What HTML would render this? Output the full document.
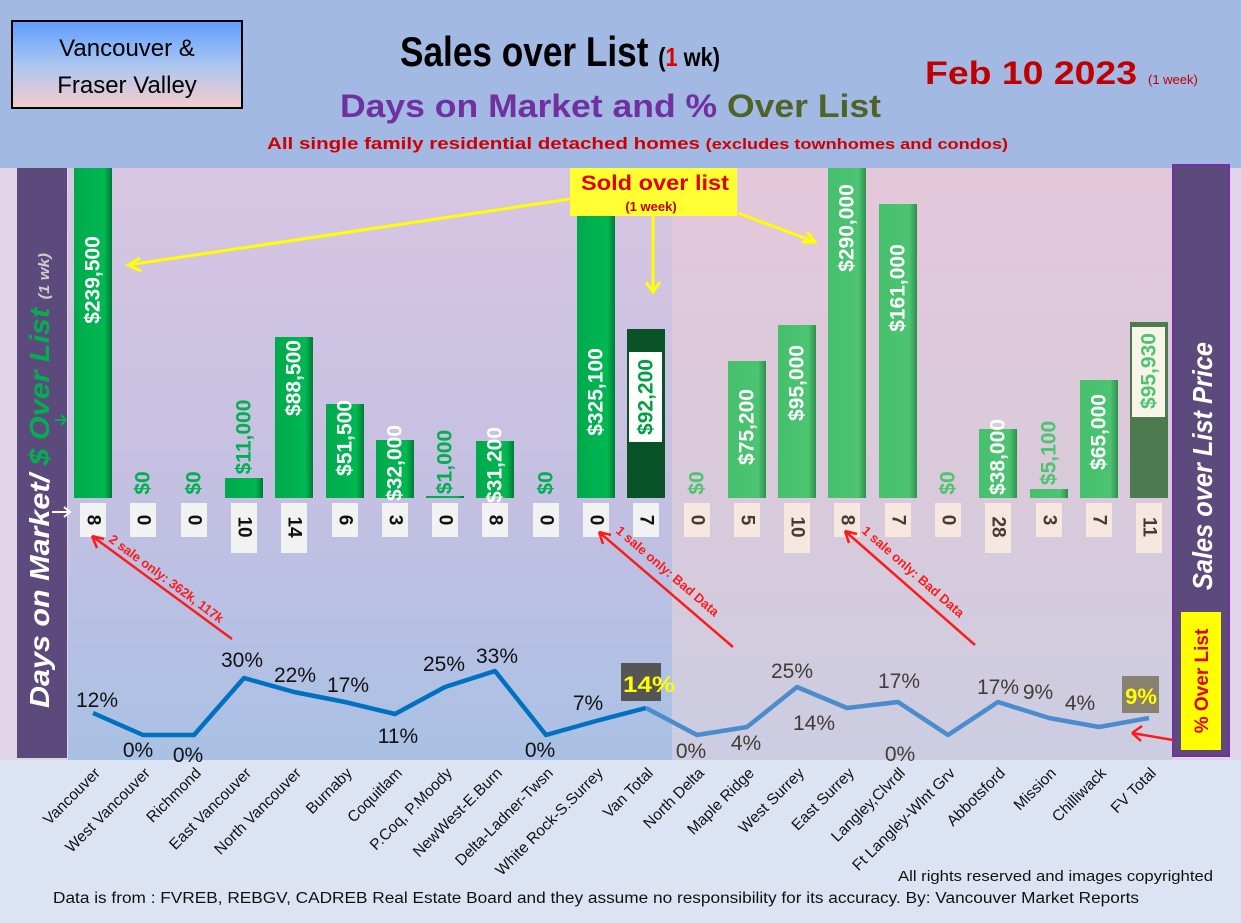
<!DOCTYPE html>
<html><head><meta charset="utf-8"><style>
body{margin:0;width:1241px;height:918px;overflow:hidden;background:#dce4f4;font-family:"Liberation Sans",sans-serif}
</style></head><body>
<svg width="1241" height="918" xmlns="http://www.w3.org/2000/svg" font-family="Liberation Sans, sans-serif">
<defs>
<linearGradient id="bx" x1="0" y1="0" x2="0" y2="1"><stop offset="0" stop-color="#5f9cff"/><stop offset="0.5" stop-color="#a9c6f0"/><stop offset="1" stop-color="#f6cccc"/></linearGradient>
<linearGradient id="lt" x1="0" y1="0" x2="0" y2="1"><stop offset="0" stop-color="#d8c6e2"/><stop offset="0.55" stop-color="#c4c0e2"/><stop offset="1" stop-color="#a9c1e4"/></linearGradient>
<linearGradient id="rt" x1="0" y1="0" x2="0" y2="1"><stop offset="0" stop-color="#e4c8da"/><stop offset="0.55" stop-color="#d8cada"/><stop offset="1" stop-color="#cccde2"/></linearGradient>
<linearGradient id="g1" x1="0" y1="0" x2="1" y2="0"><stop offset="0" stop-color="#00a94c"/><stop offset="0.8" stop-color="#00b852"/><stop offset="1" stop-color="#037a36"/></linearGradient>
<linearGradient id="g2" x1="0" y1="0" x2="1" y2="0"><stop offset="0" stop-color="#46c06c"/><stop offset="0.8" stop-color="#4cc472"/><stop offset="1" stop-color="#2f8f4e"/></linearGradient>
</defs>
<rect x="0" y="0" width="1241" height="168" fill="#a2b9e4"/>
<rect x="0" y="168" width="1241" height="592" fill="#e2d4e8"/>
<rect x="68" y="168" width="604" height="592" fill="url(#lt)"/>
<rect x="672" y="168" width="501" height="592" fill="url(#rt)"/>
<rect x="0" y="760" width="1241" height="158" fill="#dce4f4"/>
<!-- header -->
<rect x="12" y="21" width="230" height="87" fill="url(#bx)" stroke="#000" stroke-width="2"/>
<text x="127" y="56" font-size="24" text-anchor="middle">Vancouver &amp;</text>
<text x="127" y="93" font-size="24" text-anchor="middle">Fraser Valley</text>
<text x="400" y="66" font-size="42" font-weight="bold" textLength="320" lengthAdjust="spacingAndGlyphs">Sales over List <tspan font-size="26">(<tspan fill="#e00000">1</tspan> wk)</tspan></text>
<text x="925" y="84" font-size="32" font-weight="bold" fill="#c00000" textLength="212" lengthAdjust="spacingAndGlyphs">Feb 10  2023</text>
<text x="1148" y="84" font-size="13" fill="#c00000">(1 week)</text>
<text x="340" y="117" font-size="32" font-weight="bold" fill="#7030a0" textLength="541" lengthAdjust="spacingAndGlyphs">Days on Market and % <tspan fill="#4f6228">Over List</tspan></text>
<text x="267" y="149" font-size="17" font-weight="bold" fill="#d00000" textLength="741" lengthAdjust="spacingAndGlyphs">All single family residential detached homes <tspan font-size="15">(excludes townhomes and condos)</tspan></text>
<!-- side bars -->
<rect x="17" y="168" width="50" height="590" fill="#5c4a7c"/>
<text transform="translate(49,708) rotate(-90)" font-size="28" font-weight="bold" font-style="italic" fill="#fff" textLength="455" lengthAdjust="spacingAndGlyphs">Days on Market/ <tspan fill="#00b050">$ Over List</tspan> <tspan font-size="15" fill="#ccc">(1 wk)</tspan></text>
<rect x="1173" y="165" width="56" height="591" fill="#5c4a7c" stroke="#7030a0" stroke-width="2"/>
<text transform="translate(1212,590) rotate(-90)" font-size="28" font-weight="bold" font-style="italic" fill="#fff" textLength="248" lengthAdjust="spacingAndGlyphs">Sales over List Price</text>
<rect x="1181" y="612" width="40" height="138" fill="#ffff00"/>
<text transform="translate(1208,681) rotate(-90)" font-size="19" font-weight="bold" fill="#e00000" text-anchor="middle">% Over List</text>
<!-- bars -->
<g>
<rect x="74" y="168" width="38" height="330" fill="url(#g1)"/>
<rect x="225" y="478" width="38" height="20" fill="url(#g1)"/>
<rect x="275" y="337" width="38" height="161" fill="url(#g1)"/>
<rect x="326" y="404" width="38" height="94" fill="url(#g1)"/>
<rect x="376" y="440" width="38" height="58" fill="url(#g1)"/>
<rect x="426" y="496" width="38" height="2" fill="url(#g1)"/>
<rect x="476" y="441" width="38" height="57" fill="url(#g1)"/>
<rect x="577" y="168" width="38" height="330" fill="url(#g1)"/>
<rect x="627" y="329" width="38" height="169" fill="#0a5228"/>
<rect x="728" y="361" width="38" height="137" fill="url(#g2)"/>
<rect x="778" y="325" width="38" height="173" fill="url(#g2)"/>
<rect x="828" y="168" width="38" height="330" fill="url(#g2)"/>
<rect x="879" y="204" width="38" height="294" fill="url(#g2)"/>
<rect x="979" y="429" width="38" height="69" fill="url(#g2)"/>
<rect x="1030" y="489" width="38" height="9" fill="url(#g2)"/>
<rect x="1080" y="380" width="38" height="118" fill="url(#g2)"/>
<rect x="1130" y="322" width="38" height="176" fill="#4e7a52"/>
<rect x="629" y="352" width="33" height="90" fill="#fff"/>
<rect x="1132" y="327" width="33" height="90" fill="#f8f4e8"/>
</g>
<g font-size="21" font-weight="bold" fill="#fff" text-anchor="middle" dominant-baseline="central">
<text transform="translate(93,280) rotate(-90)">$239,500</text>
<text transform="translate(143,483) rotate(-90)" fill="#00b050">$0</text>
<text transform="translate(194,483) rotate(-90)" fill="#00b050">$0</text>
<text transform="translate(244,437) rotate(-90)" fill="#00b050">$11,000</text>
<text transform="translate(294,378) rotate(-90)">$88,500</text>
<text transform="translate(345,438) rotate(-90)">$51,500</text>
<text transform="translate(395,463) rotate(-90)">$32,000</text>
<text transform="translate(445,462) rotate(-90)" fill="#00b050">$1,000</text>
<text transform="translate(495,465) rotate(-90)">$31,200</text>
<text transform="translate(546,483) rotate(-90)" fill="#00b050">$0</text>
<text transform="translate(596,392) rotate(-90)">$325,100</text>
<text transform="translate(646,397) rotate(-90)" fill="#00a040">$92,200</text>
<text transform="translate(697,483) rotate(-90)" fill="#4cc472">$0</text>
<text transform="translate(747,427) rotate(-90)">$75,200</text>
<text transform="translate(797,383) rotate(-90)">$95,000</text>
<text transform="translate(847,228) rotate(-90)">$290,000</text>
<text transform="translate(898,288) rotate(-90)">$161,000</text>
<text transform="translate(948,483) rotate(-90)" fill="#4cc472">$0</text>
<text transform="translate(998,457) rotate(-90)">$38,000</text>
<text transform="translate(1049,453) rotate(-90)" fill="#4cc472">$5,100</text>
<text transform="translate(1099,432) rotate(-90)">$65,000</text>
<text transform="translate(1149,371) rotate(-90)" fill="#4cc472">$95,930</text>
</g>
<!-- day boxes -->
<g fill="#f2f2f2">
<rect x="80" y="503" width="26" height="34"/><rect x="130" y="503" width="26" height="34"/><rect x="181" y="503" width="26" height="34"/>
<rect x="231" y="503" width="26" height="50"/><rect x="281" y="503" width="26" height="50"/><rect x="332" y="503" width="26" height="34"/>
<rect x="382" y="503" width="26" height="34"/><rect x="432" y="503" width="26" height="34"/><rect x="482" y="503" width="26" height="34"/>
<rect x="533" y="503" width="26" height="34"/><rect x="583" y="503" width="26" height="34"/><rect x="633" y="503" width="26" height="34"/>
</g>
<g fill="#f6e8e0">
<rect x="684" y="503" width="26" height="34"/><rect x="734" y="503" width="26" height="34"/><rect x="784" y="503" width="26" height="50"/>
<rect x="834" y="503" width="26" height="34"/><rect x="885" y="503" width="26" height="34"/><rect x="935" y="503" width="26" height="34"/>
<rect x="985" y="503" width="26" height="50"/><rect x="1036" y="503" width="26" height="34"/><rect x="1086" y="503" width="26" height="34"/>
<rect x="1136" y="503" width="26" height="50"/>
</g>
<g font-size="19" font-weight="bold" fill="#111" text-anchor="middle" dominant-baseline="central">
<text transform="translate(93,520) rotate(90)">8</text><text transform="translate(143,520) rotate(90)">0</text><text transform="translate(194,520) rotate(90)">0</text>
<text transform="translate(244,527) rotate(90)">10</text><text transform="translate(294,527) rotate(90)">14</text><text transform="translate(345,520) rotate(90)">6</text>
<text transform="translate(395,520) rotate(90)">3</text><text transform="translate(445,520) rotate(90)">0</text><text transform="translate(495,520) rotate(90)">8</text>
<text transform="translate(546,520) rotate(90)">0</text><text transform="translate(596,520) rotate(90)">0</text><text transform="translate(646,520) rotate(90)">7</text>
</g>
<g font-size="19" font-weight="bold" fill="#443a36" text-anchor="middle" dominant-baseline="central">
<text transform="translate(697,520) rotate(90)">0</text><text transform="translate(747,520) rotate(90)">5</text><text transform="translate(797,527) rotate(90)">10</text>
<text transform="translate(847,520) rotate(90)">8</text><text transform="translate(898,520) rotate(90)">7</text><text transform="translate(948,520) rotate(90)">0</text>
<text transform="translate(998,527) rotate(90)">28</text><text transform="translate(1049,520) rotate(90)">3</text><text transform="translate(1099,520) rotate(90)">7</text>
<text transform="translate(1149,527) rotate(90)">11</text>
</g>
<!-- small arrows -->
<path d="M52,512 H70 M64,507 L70,512 L64,517" stroke="#fff" stroke-width="2" fill="none"/>
<path d="M55,420 H66 M61,415 L66,420 L61,425" stroke="#00b050" stroke-width="2" fill="none"/>
<!-- yellow annotation -->
<rect x="570" y="168" width="167" height="48" fill="#ffff33"/>
<text x="655" y="190" font-size="21" font-weight="bold" fill="#e00000" text-anchor="middle" textLength="148" lengthAdjust="spacingAndGlyphs">Sold over list</text>
<text x="651" y="211" font-size="13" font-weight="bold" fill="#c00000" text-anchor="middle">(1 week)</text>
<g stroke="#ffff00" stroke-width="3" fill="none">
<path d="M570,199 L128,265 M140,258 L128,265 L141,271"/>
<path d="M653,216 V292 M646,282 L653,292 L660,282"/>
<path d="M738,213 L815,242 M802,242 L815,242 L807,232"/>
</g>
<!-- red annotations -->
<g stroke="#ff1a1a" stroke-width="2.5" fill="none">
<path d="M232,639 L92,536 M92,536 L97,548 M92,536 L104,539"/>
<path d="M733,647 L599,532 M599,532 L603,544 M599,532 L611,535"/>
<path d="M975,645 L845,531 M845,531 L849,543 M845,531 L857,534"/>
<path d="M1173,740 L1132,733 M1132,733 L1142,726 M1132,733 L1141,741"/>
</g>
<g font-size="13" font-weight="bold" fill="#ff1a1a">
<text transform="translate(108,541) rotate(36.5)">2 sale only: 362k, 117k</text>
<text transform="translate(615,532) rotate(40.6)">1 sale only: Bad Data</text>
<text transform="translate(861,532) rotate(41.2)">1 sale only: Bad Data</text>
</g>
<!-- line -->
<polyline points="93,713 143,735 194,735 244,678 294,692 345,702 395,714 445,687 495,671 546,735 596,721 646,708" fill="none" stroke="#0070c0" stroke-width="4.5" stroke-linejoin="round"/>
<polyline points="646,708 697,735 747,727 797,687 847,708 898,702 948,735 998,702 1049,718 1099,727 1149,718" fill="none" stroke="#4a8ccc" stroke-width="4.5" stroke-linejoin="round"/>
<g font-size="21" fill="#111" text-anchor="middle">
<text x="97" y="707">12%</text><text x="138" y="757">0%</text><text x="188" y="762">0%</text>
<text x="242" y="667">30%</text><text x="295" y="682">22%</text><text x="348" y="692">17%</text>
<text x="398" y="743">11%</text><text x="444" y="671">25%</text><text x="497" y="663">33%</text>
<text x="540" y="757">0%</text><text x="588" y="710">7%</text>
</g>
<rect x="621" y="663" width="40" height="38" fill="#555"/>
<text x="623" y="692" font-size="22" font-weight="bold" fill="#ffff00" textLength="52" lengthAdjust="spacingAndGlyphs">14%</text>
<g font-size="21" fill="#443a36" text-anchor="middle">
<text x="691" y="758">0%</text><text x="746" y="750">4%</text><text x="792" y="678">25%</text>
<text x="814" y="730">14%</text><text x="899" y="688">17%</text><text x="900" y="761">0%</text>
<text x="998" y="694">17%</text><text x="1038" y="699">9%</text><text x="1080" y="710">4%</text>
</g>
<rect x="1122" y="676" width="37" height="37" fill="#8a8070"/>
<text x="1141" y="704" font-size="22" font-weight="bold" fill="#ffff00" text-anchor="middle">9%</text>
<!-- category labels -->
<g font-size="15.5" fill="#111" text-anchor="end">
<text transform="translate(101,774) rotate(-45)">Vancouver</text>
<text transform="translate(151,774) rotate(-45)">West Vancouver</text>
<text transform="translate(202,774) rotate(-45)">Richmond</text>
<text transform="translate(252,774) rotate(-45)">East Vancouver</text>
<text transform="translate(302,774) rotate(-45)">North Vancouver</text>
<text transform="translate(353,774) rotate(-45)">Burnaby</text>
<text transform="translate(403,774) rotate(-45)">Coquitlam</text>
<text transform="translate(453,774) rotate(-45)">P.Coq, P.Moody</text>
<text transform="translate(503,774) rotate(-45)">NewWest-E.Burn</text>
<text transform="translate(554,774) rotate(-45)">Delta-Ladner-Twsn</text>
<text transform="translate(604,774) rotate(-45)">White Rock-S.Surrey</text>
<text transform="translate(654,774) rotate(-45)">Van Total</text>
<text transform="translate(705,774) rotate(-45)">North Delta</text>
<text transform="translate(755,774) rotate(-45)">Maple Ridge</text>
<text transform="translate(805,774) rotate(-45)">West Surrey</text>
<text transform="translate(855,774) rotate(-45)">East Surrey</text>
<text transform="translate(906,774) rotate(-45)">Langley,Clvrdl</text>
<text transform="translate(956,774) rotate(-45)">Ft Langley-Wlnt Grv</text>
<text transform="translate(1006,774) rotate(-45)">Abbotsford</text>
<text transform="translate(1057,774) rotate(-45)">Mission</text>
<text transform="translate(1107,774) rotate(-45)">Chilliwack</text>
<text transform="translate(1157,774) rotate(-45)">FV Total</text>
</g>
<text x="898" y="881" font-size="15" fill="#111" textLength="315" lengthAdjust="spacingAndGlyphs">All rights reserved and  images copyrighted</text>
<text x="53" y="903" font-size="15.5" fill="#111" textLength="1086" lengthAdjust="spacingAndGlyphs">Data is from : FVREB, REBGV, CADREB Real Estate Board and they assume no responsibility for its accuracy. By: Vancouver Market Reports</text>
</svg>
</body></html>
